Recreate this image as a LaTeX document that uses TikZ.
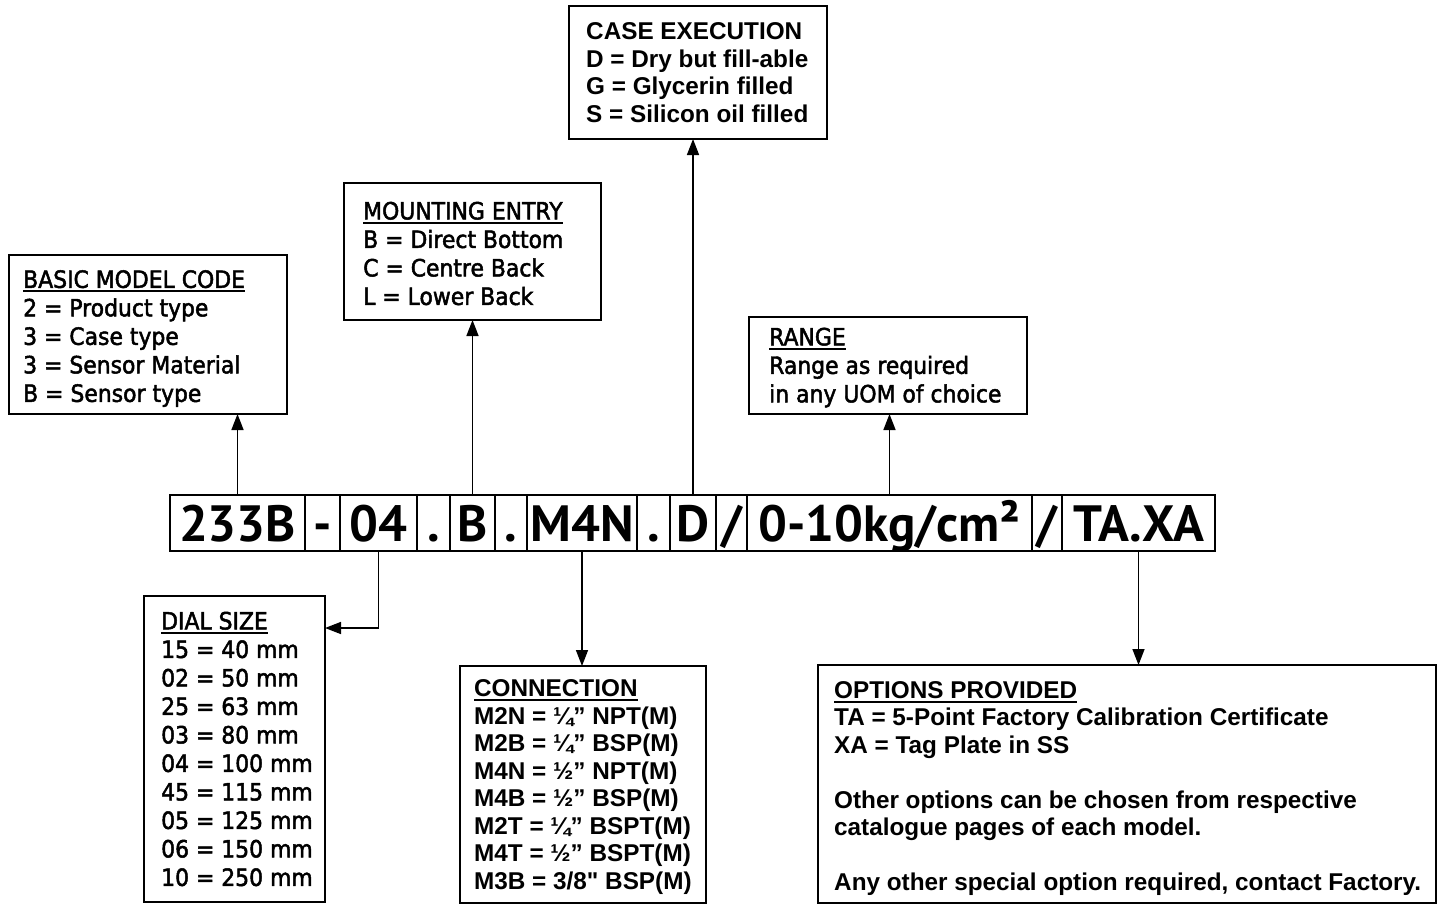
\documentclass[tikz,border=0pt]{standalone}
\usepackage{fontspec}
\usepackage{tikz}
\usetikzlibrary{positioning, arrows.meta}

\newfontfamily\legendfont{DejaVu Sans}[FakeStretch=0.92, FakeBold=2]
\newfontfamily\arialfont{Liberation Sans}
\newfontfamily\codefont{PT Sans}

\newsavebox\hdrbox
\newcommand{\hdr}[1]{\sbox\hdrbox{#1}\rlap{\rule[-4.5pt]{\wd\hdrbox}{2pt}}\usebox\hdrbox}

\begin{document}
\begin{tikzpicture}[x=1pt, y=-1pt]
    \tikzset{
        legend box/.style={draw, line width=1.5pt, anchor=north west, inner sep=0pt, outer sep=0pt},
        legend text/.style={align=left, inner sep=0pt, anchor=west},
        gill/.style={font=\legendfont\fontsize{23.8}{28.5}\selectfont},
        arial/.style={font=\arialfont\bfseries\fontsize{24.3}{27.5}\selectfont},
        code cell/.style={draw, line width=1.5pt, minimum height=56pt, inner sep=0pt, outer sep=0pt,
                text height=37pt, text depth=0pt, font=\codefont\bfseries\fontsize{51}{51}\selectfont},
        pointer/.style={line width=1.5pt, -{Triangle[width=12pt, length=16pt]}}
    }
    \useasboundingbox (0,0) rectangle (1441,903);

    % model code strip
    \node[code cell, minimum width=135pt, anchor=north west] (c233B) at (170,495) {233B};
    \node[code cell, minimum width=35pt, right=0pt of c233B] (dash) {-};
    \node[code cell, minimum width=77pt, right=0pt of dash] (c04) {04};
    \node[code cell, minimum width=33pt, right=0pt of c04] (dot1) {.};
    \node[code cell, minimum width=45pt, right=0pt of dot1] (cB) {B};
    \node[code cell, minimum width=32pt, right=0pt of cB] (dot2) {.};
    \node[code cell, minimum width=110pt, right=0pt of dot2] (cM4N) {M4N};
    \node[code cell, minimum width=33pt, right=0pt of cM4N] (dot3) {.};
    \node[code cell, minimum width=46pt, right=0pt of dot3] (cD) {D};
    \node[code cell, minimum width=31pt, right=0pt of cD] (slash1) {/};
    \node[code cell, minimum width=285pt, right=0pt of slash1] (crange) {0-10kg/cm²};
    \node[code cell, minimum width=30pt, right=0pt of crange] (slash2) {/};
    \node[code cell, minimum width=153pt, right=0pt of slash2] (cTAXA) {TA.XA};

    % legend boxes
    \node[legend box, minimum width=278pt, minimum height=159pt] (basic) at (9,255) {};
    \node[legend text, gill, right=14pt of basic.west, yshift=-4pt] (basic text) {\hdr{BASIC MODEL CODE}\\
        2 = Product type\\ 3 = Case type\\ 3 = Sensor Material\\ B = Sensor type};

    \node[legend box, minimum width=257pt, minimum height=137pt] (mount) at (344,183) {};
    \node[legend text, gill, right=19pt of mount.west, yshift=-2pt] (mount text) {\hdr{MOUNTING ENTRY}\\
        B = Direct Bottom\\ C = Centre Back\\ L = Lower Back};

    \node[legend box, minimum width=258pt, minimum height=133pt] (case) at (569,6) {};
    \node[legend text, arial, right=17pt of case.west] (case text) {CASE EXECUTION\\
        D = Dry but fill-able\\ G = Glycerin filled\\ S = Silicon oil filled};

    \node[legend box, minimum width=278pt, minimum height=97pt] (range) at (749,317) {};
    \node[legend text, gill, right=20pt of range.west, yshift=-2pt] (range text) {\hdr{RANGE}\\
        Range as required\\ in any UOM of choice};

    \node[legend box, minimum width=181pt, minimum height=306pt] (dial) at (144,596) {};
    \node[legend text, gill, right=17pt of dial.west] (dial text) {\hdr{DIAL SIZE}\\
        15 = 40 mm\\ 02 = 50 mm\\ 25 = 63 mm\\ 03 = 80 mm\\ 04 = 100 mm\\
        45 = 115 mm\\ 05 = 125 mm\\ 06 = 150 mm\\ 10 = 250 mm};

    \node[legend box, minimum width=246pt, minimum height=237pt] (conn) at (460,666) {};
    \node[legend text, arial, right=14pt of conn.west, yshift=-2.5pt] (conn text) {\hdr{CONNECTION}\\
        M2N = ¼” NPT(M)\\ M2B = ¼” BSP(M)\\ M4N = ½” NPT(M)\\ M4B = ½” BSP(M)\\
        M2T = ¼” BSPT(M)\\ M4T = ½” BSPT(M)\\ M3B = 3/8" BSP(M)};

    \node[legend box, minimum width=618pt, minimum height=238pt] (opts) at (818,665) {};
    \node[legend text, arial, right=16pt of opts.west, yshift=-4.5pt] (opts text) {\hdr{OPTIONS PROVIDED}\\
        TA = 5-Point Factory Calibration Certificate\\ XA = Tag Plate in SS\\[27.5pt]
        Other options can be chosen from respective\\ catalogue pages of each model.\\[27.5pt]
        Any other special option required, contact Factory.};

    % pointers
    \draw[pointer] (c233B.north) -- (c233B.north |- basic.south);
    \draw[pointer] (cB.north) -- (cB.north |- mount.south);
    \draw[pointer] (cD.north) -- (cD.north |- case.south);
    \draw[pointer] (crange.north) -- (crange.north |- range.south);
    \draw[pointer] (c04.south) |- ([yshift=-32pt]dial.north east);
    \draw[pointer] (cM4N.south) -- (cM4N.south |- conn.north);
    \draw[pointer] (cTAXA.south) -- (cTAXA.south |- opts.north);
\end{tikzpicture}
\end{document}
